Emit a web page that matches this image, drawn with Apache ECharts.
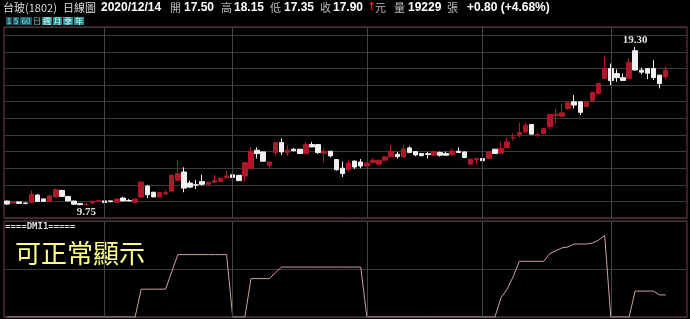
<!DOCTYPE html>
<html lang="zh-TW">
<head>
<meta charset="utf-8">
<script src="https://cdn.jsdelivr.net/npm/echarts@6/dist/echarts.min.js"></script>
<style>
  html, body { margin: 0; padding: 0; background: #000; }
  #container { width: 690px; height: 319px; }
</style>
</head>
<body>
<div id="container"></div>
<script type="text/javascript">
    // trading days per month (2020)
    var tradeDays = [
        ['2020/07', [10, 13, 14, 15, 16, 17, 20, 21, 22, 23, 24, 27, 28, 29, 30, 31]],
        ['2020/08', [3, 4, 5, 6, 7, 10, 11, 12, 13, 14, 17, 18, 19, 20, 21, 24, 25, 26, 27, 28, 31]],
        ['2020/09', [1, 2, 3, 4, 7, 8, 9, 10, 11, 14, 15, 16, 17, 18, 21, 22, 23, 24, 25, 28, 29, 30]],
        ['2020/10', [5, 6, 7, 8, 12, 13, 14, 15, 16, 19, 20, 21, 22, 23, 26, 27, 28, 29, 30]],
        ['2020/11', [2, 3, 4, 5, 6, 9, 10, 11, 12, 13, 16, 17, 18, 19, 20, 23, 24, 25, 26, 27, 30]],
        ['2020/12', [1, 2, 3, 4, 7, 8, 9, 10, 11, 14]]
    ];
    var emptySlots = ['+1', '+2', '+3'];

    // [open, close, low, high]
    var candles = [
        [10.02, 9.84, 9.80, 10.05], [9.90, 9.95, 9.85, 9.97], [9.97, 9.88, 9.86, 9.98], [9.90, 9.88, 9.82, 9.93],
        [9.94, 10.42, 9.92, 10.66], [10.38, 10.00, 9.96, 10.45], [10.15, 10.00, 9.98, 10.18], [10.00, 10.34, 9.98, 10.36],
        [10.27, 10.70, 10.24, 10.78], [10.66, 10.30, 10.28, 10.70], [10.30, 10.03, 10.00, 10.32], [10.02, 9.83, 9.80, 10.04],
        [9.88, 9.80, 9.78, 9.90], [9.80, 9.83, 9.75, 9.90], [9.90, 10.00, 9.85, 10.05], [10.00, 10.05, 9.98, 10.07],
        [10.03, 9.93, 9.90, 10.05], [10.03, 9.98, 9.96, 10.05], [9.95, 10.14, 9.93, 10.16], [10.20, 10.03, 10.00, 10.28],
        [10.05, 10.03, 10.00, 10.15], [9.95, 10.14, 9.93, 10.16], [10.26, 11.17, 10.20, 11.22], [10.92, 10.40, 10.20, 11.00],
        [10.55, 10.27, 10.25, 10.58], [10.27, 10.54, 10.25, 10.56], [10.45, 10.52, 10.40, 10.70], [10.62, 11.57, 10.55, 11.60],
        [11.27, 11.67, 11.20, 12.48], [11.77, 10.80, 10.55, 12.05], [11.10, 10.86, 10.80, 11.25], [11.00, 10.98, 10.75, 11.30],
        [11.20, 11.03, 10.95, 11.60], [11.03, 11.15, 11.00, 11.18], [11.15, 11.25, 11.12, 11.60], [11.20, 11.40, 11.18, 11.42],
        [11.42, 11.53, 11.40, 11.85], [11.60, 11.44, 11.42, 11.62], [11.57, 11.25, 11.23, 11.60], [11.53, 12.33, 11.23, 12.35],
        [12.00, 13.02, 11.97, 13.28], [13.08, 12.88, 12.58, 13.25], [12.98, 12.42, 12.40, 13.00], [12.17, 12.37, 12.02, 12.40],
        [12.94, 13.54, 12.75, 13.56], [13.54, 12.98, 12.80, 13.79], [12.95, 13.08, 12.75, 13.40], [13.14, 13.05, 13.02, 13.22],
        [13.14, 12.88, 12.85, 13.16], [12.88, 13.42, 12.85, 13.60], [13.42, 13.28, 13.25, 13.58], [13.42, 12.94, 12.85, 13.45],
        [12.90, 13.02, 12.33, 13.20], [13.02, 12.74, 12.65, 13.04], [12.52, 11.91, 11.85, 12.55], [12.00, 11.67, 11.47, 12.40],
        [11.91, 12.31, 11.78, 12.50], [12.43, 12.07, 11.95, 12.45], [12.37, 12.13, 12.00, 12.55], [12.13, 12.31, 12.10, 12.33],
        [12.34, 12.48, 12.32, 12.60], [12.24, 12.48, 12.22, 12.50], [12.48, 12.68, 12.46, 12.70], [12.68, 13.02, 12.66, 13.40],
        [12.84, 12.70, 12.58, 12.98], [12.68, 13.16, 12.66, 13.40], [13.22, 12.94, 12.92, 13.32], [13.00, 12.80, 12.72, 13.02],
        [12.88, 12.75, 12.72, 12.90], [12.87, 12.82, 12.58, 12.98], [12.78, 13.00, 12.76, 13.02], [12.94, 12.78, 12.70, 13.00],
        [12.88, 12.78, 12.74, 13.00], [12.80, 13.04, 12.78, 13.20], [13.02, 12.94, 12.92, 13.26], [12.98, 12.64, 12.60, 13.00],
        [12.24, 12.54, 12.22, 12.56], [12.52, 12.58, 12.24, 12.60], [12.58, 12.45, 12.35, 12.80], [12.58, 12.98, 12.56, 13.00],
        [13.14, 12.88, 12.86, 13.16], [12.90, 13.18, 12.88, 13.60], [13.24, 13.58, 13.22, 13.85], [13.83, 13.85, 13.65, 14.10],
        [14.03, 14.15, 13.85, 14.75], [14.18, 14.59, 14.16, 14.75], [14.63, 14.05, 14.03, 14.65], [14.00, 14.02, 13.85, 14.15],
        [14.08, 14.38, 14.06, 14.40], [14.50, 15.24, 14.35, 15.26], [15.15, 15.25, 14.70, 15.56], [15.13, 15.33, 15.10, 15.90],
        [15.60, 15.94, 15.50, 16.00], [16.00, 15.80, 15.60, 16.40], [16.00, 15.36, 15.20, 16.02], [15.70, 16.00, 15.68, 16.02],
        [16.06, 16.56, 16.04, 16.58], [16.50, 17.10, 16.40, 17.12], [17.41, 18.00, 17.38, 18.76], [18.00, 17.27, 17.00, 18.30],
        [17.70, 17.45, 17.20, 17.95], [17.45, 17.28, 17.25, 17.70], [17.41, 18.37, 17.38, 18.60], [19.07, 17.91, 17.88, 19.30],
        [17.90, 17.78, 17.65, 18.05], [18.00, 17.72, 17.35, 18.02], [18.00, 17.45, 17.30, 18.50], [17.60, 17.10, 16.80, 17.62],
        [17.50, 17.90, 17.35, 18.15]
    ];

    var dmi = [
        0, 0, 0, 0, 0, 0, 0, 0, 0, 0, 0, 0, 0, 0, 0, 0, 0, 0, 0, 0, 0, 0,
        29, 29, 29, 29, 29, 47, 65, 65, 65, 65, 65, 65, 65, 65, 65,
        0, 0, 0, 40, 40, 40, 40, 46,
        52, 52, 52, 52, 52, 52, 52, 52, 52, 52, 52, 52, 52, 52,
        0, 0, 0, 0, 0, 0, 0, 0, 0, 0, 0, 0, 0, 0, 0, 0, 0, 0, 0, 0, 0, 0,
        20, 29, 42, 58, 58, 58, 58, 58,
        66, 69, 72, 73, 76, 76, 76, 77, 80, 85,
        0, 0, 0, 0, 27, 27, 27, 27, 23, 23
    ];
    var lastVolume = 19229;

    var dates = [];
    tradeDays.forEach(function (m) {
        m[1].forEach(function (d) {
            dates.push(m[0] + '/' + (d < 10 ? '0' + d : d));
        });
    });
    var categories = dates.concat(emptySlots);

    // first trading day of each month -> vertical grid line
    var monthLines = [];
    for (var i = 1; i < dates.length; i++) {
        if (dates[i].slice(0, 7) !== dates[i - 1].slice(0, 7)) {
            monthLines.push({xAxis: dates[i]});
        }
    }

    var gridColor = '#3b3b3b';
    var frameColor = '#7a3a4a';
    var upColor = '#b0182a';
    var downColor = '#f0f0f0';

    var last = candles[candles.length - 1];
    var prevClose = candles[candles.length - 2][1];
    var chg = last[1] - prevClose;
    var chgText = (chg >= 0 ? '+' : '') + chg.toFixed(2) + ' (' + (chg >= 0 ? '+' : '') + (chg / prevClose * 100).toFixed(2) + '%)';

    var cjkFont = '11px "Noto Sans CJK TC"';
    var numFont = 'bold 12px "Liberation Sans"';
    var header = [
        ['台玻(1802)', 3, cjkFont, '#dddddd'],
        ['日線圖', 63, cjkFont, '#dddddd'],
        [dates[dates.length - 1], 101, numFont, '#ffffff'],
        ['開', 170, cjkFont, '#bbbbbb'],
        [last[0].toFixed(2), 184, numFont, '#ffffff'],
        ['高', 221, cjkFont, '#bbbbbb'],
        [last[3].toFixed(2), 234, numFont, '#ffffff'],
        ['低', 270, cjkFont, '#bbbbbb'],
        [last[2].toFixed(2), 284, numFont, '#ffffff'],
        ['收', 320, cjkFont, '#bbbbbb'],
        [last[1].toFixed(2), 333, numFont, '#ffffff'],
        ['↑', 367, 'bold 11px "DejaVu Sans"', '#e02020'],
        ['元', 375, cjkFont, '#bbbbbb'],
        ['量', 394, cjkFont, '#bbbbbb'],
        [String(lastVolume), 408, numFont, '#ffffff'],
        ['張', 447, cjkFont, '#bbbbbb'],
        [chgText, 467, numFont, '#ffffff']
    ];

    var graphics = header.map(function (h) {
        return {
            type: 'text', left: h[1], top: 2, silent: true,
            style: {text: h[0], font: h[2], fill: h[3]}
        };
    });

    // period buttons
    var buttons = [
        ['1', 6, 6, '#1a5f66', '#6fe0e6'],
        ['5', 13, 6, '#1a5f66', '#6fe0e6'],
        ['60', 20, 12, '#1a5f66', '#6fe0e6'],
        ['日', 33, 8, '#101818', '#8ab0b0'],
        ['週', 42, 10, '#2a8c8c', '#d8ffff'],
        ['月', 53, 9, '#2a8c8c', '#d8ffff'],
        ['季', 63, 10, '#2a8c8c', '#d8ffff'],
        ['年', 74, 10, '#2a8c8c', '#d8ffff']
    ];
    buttons.forEach(function (b) {
        graphics.push({
            type: 'rect', silent: true,
            shape: {x: b[1], y: 17, width: b[2], height: 8},
            style: {fill: b[3]}
        });
        graphics.push({
            type: 'text', silent: true, x: b[1] + b[2] / 2, y: 21,
            style: {text: b[0], font: '8px "Noto Sans CJK TC"', fill: b[4], align: 'center', verticalAlign: 'middle'}
        });
    });

    graphics.push({
        type: 'text', silent: true, left: 5, top: 222,
        style: {text: '====DMI1=====', font: 'bold 9px "DejaVu Sans Mono"', fill: '#dddddd'}
    });
    graphics.push({
        type: 'text', silent: true, left: 15, top: 240,
        style: {text: '可正常顯示', font: '26px "Noto Sans CJK TC"', fill: '#ffff88'}
    });

    var myChart = echarts.init(document.getElementById('container'));
    var option = {
        backgroundColor: '#000',
        animation: false,
        graphic: graphics,
        grid: [
            {left: 4, right: 3, top: 27, height: 191, show: true, borderColor: frameColor, borderWidth: 1},
            {left: 4, right: 3, top: 221, height: 96, show: true, borderColor: frameColor, borderWidth: 1}
        ],
        xAxis: [
            {type: 'category', gridIndex: 0, data: categories, axisLine: {show: false}, axisTick: {show: false}, axisLabel: {show: false}},
            {type: 'category', gridIndex: 1, data: categories, axisLine: {show: false}, axisTick: {show: false}, axisLabel: {show: false}}
        ],
        yAxis: [
            {
                type: 'value', gridIndex: 0, min: 9, max: 20.5, interval: 1,
                axisLine: {show: false}, axisTick: {show: false}, axisLabel: {show: false},
                splitLine: {lineStyle: {color: gridColor, width: 1}}
            },
            {
                type: 'value', gridIndex: 1, min: 0, max: 100, interval: 50,
                axisLine: {show: false}, axisTick: {show: false}, axisLabel: {show: false},
                splitLine: {lineStyle: {color: gridColor, width: 1}}
            }
        ],
        series: [
            {
                type: 'candlestick',
                xAxisIndex: 0, yAxisIndex: 0,
                data: candles,
                barWidth: 5,
                itemStyle: {
                    color: upColor, color0: downColor,
                    borderColor: upColor, borderColor0: downColor,
                    borderColorDoji: '#b0b0b0', borderWidth: 1
                },
                markPoint: {
                    symbol: 'circle', symbolSize: 0, silent: true,
                    label: {
                        color: '#e0e0e0', fontFamily: 'Liberation Serif', fontWeight: 'bold', fontSize: 11,
                        formatter: function (p) { return Number(p.value).toFixed(2); }
                    },
                    data: [
                        {type: 'max', valueDim: 'highest', label: {position: 'top', distance: 1}},
                        {type: 'min', valueDim: 'lowest', label: {position: 'bottom', distance: 1}}
                    ]
                },
                markLine: {
                    silent: true, symbol: ['none', 'none'], label: {show: false},
                    lineStyle: {color: '#454545', type: 'solid', width: 1},
                    data: monthLines
                }
            },
            {
                type: 'line',
                xAxisIndex: 1, yAxisIndex: 1,
                data: dmi,
                symbol: 'none',
                lineStyle: {color: '#d4a0a0', width: 1},
                markLine: {
                    silent: true, symbol: ['none', 'none'], label: {show: false},
                    lineStyle: {color: '#454545', type: 'solid', width: 1},
                    data: monthLines
                }
            }
        ]
    };
    myChart.setOption(option);
</script>
</body>
</html>
